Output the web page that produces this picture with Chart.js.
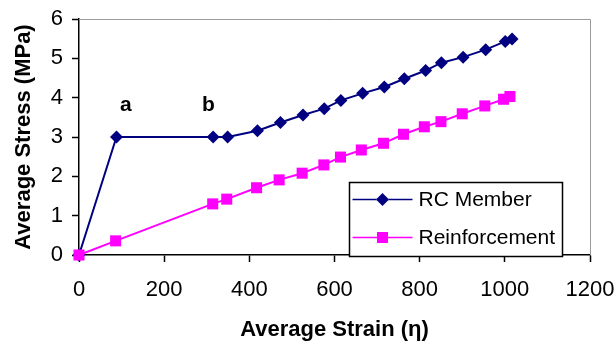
<!DOCTYPE html>
<html>
<head>
<meta charset="utf-8">
<script src="https://cdn.jsdelivr.net/npm/chart.js@4/dist/chart.umd.min.js"></script>
<style>
  html, body { margin: 0; padding: 0; background: #fff; }
  #wrap { width: 616px; height: 343px; }
</style>
</head>
<body>
<div id="wrap"><canvas id="chart" width="616" height="343"></canvas></div>
<script>
// Daten
const rcStrain = [0, 88, 315, 349, 419, 473, 526, 576, 615, 666, 717, 764, 814, 851, 902, 955, 1001, 1017];
const rcStress = [0, 3.0, 3.0, 3.0, 3.16, 3.37, 3.56, 3.72, 3.93, 4.11, 4.27, 4.48, 4.69, 4.89, 5.03, 5.22, 5.43, 5.49];
const reStrain = [0, 86, 314, 347, 417, 470, 524, 575, 614, 663, 715, 762, 811, 850, 900, 953, 997, 1012];
const reStress = [0, 0.36, 1.30, 1.42, 1.71, 1.91, 2.08, 2.29, 2.49, 2.67, 2.84, 3.07, 3.26, 3.39, 3.59, 3.79, 3.96, 4.03];
const seriesNames = ['RC Member', 'Reinforcement'];
const xTicks = [0, 200, 400, 600, 800, 1000, 1200];
const yTicks = [0, 1, 2, 3, 4, 5, 6];
const marks = [{ text: 'a', x: 110, y: 3.82 }, { text: 'b', x: 304, y: 3.82 }];

const FONT = "'Liberation Sans', Arial, sans-serif";
const NAVY = '#000080';
const PINK = '#FF00FF';

function toPoints(xs, ys) {
  return xs.map((x, i) => ({ x: x, y: ys[i] }));
}

// Rahmen oben/rechts, Beschriftung a/b, Legende
const extras = {
  id: 'extras',
  beforeDatasetsDraw(chart) {
    const ctx = chart.ctx;
    const a = chart.chartArea;
    ctx.save();
    ctx.strokeStyle = '#9a9a9a';
    ctx.lineWidth = 1;
    ctx.beginPath();
    ctx.moveTo(a.left, a.top + 0.5);
    ctx.lineTo(a.right + 0.5, a.top + 0.5);
    ctx.lineTo(a.right + 0.5, a.bottom);
    ctx.stroke();
    ctx.restore();
  },
  afterDatasetsDraw(chart) {
    const ctx = chart.ctx;
    const xs = chart.scales.x, ys = chart.scales.y;
    ctx.save();
    ctx.fillStyle = '#000';
    ctx.font = 'bold 21px ' + FONT;
    ctx.textAlign = 'center';
    ctx.textBaseline = 'middle';
    marks.forEach(m => ctx.fillText(m.text, xs.getPixelForValue(m.x), ys.getPixelForValue(m.y)));

    // Legende
    const bx = 349.5, by = 182.5, bw = 213, bh = 74;
    ctx.fillStyle = '#fff';
    ctx.fillRect(bx, by, bw, bh);
    ctx.strokeStyle = '#000';
    ctx.lineWidth = 1.5;
    ctx.strokeRect(bx, by, bw, bh);
    const rows = [by + 17, by + 55];
    chart.data.datasets.forEach((ds, i) => {
      const yy = rows[i];
      ctx.strokeStyle = ds.borderColor;
      ctx.lineWidth = 1.5;
      ctx.beginPath();
      ctx.moveTo(bx + 3, yy);
      ctx.lineTo(bx + 63, yy);
      ctx.stroke();
      Chart.helpers.drawPoint(ctx, {
        pointStyle: ds.pointStyle, radius: ds.pointRadius, borderWidth: 0, rotation: 0
      }, bx + 33, yy);
      ctx.fillStyle = ds.backgroundColor;
      ctx.fill();
      ctx.fillStyle = '#000';
      ctx.font = '21px ' + FONT;
      ctx.textAlign = 'left';
      ctx.fillText(ds.label, bx + 69, yy + 1);
    });
    ctx.restore();
  }
};

new Chart(document.getElementById('chart').getContext('2d'), {
  type: 'scatter',
  data: {
    datasets: [
      {
        label: seriesNames[0], data: toPoints(rcStrain, rcStress), showLine: true, order: 1, clip: false,
        borderColor: NAVY, backgroundColor: NAVY, borderWidth: 2,
        pointStyle: 'rectRot', pointRadius: 6.5, pointBorderWidth: 0, pointHoverRadius: 6.5
      },
      {
        label: seriesNames[1], data: toPoints(reStrain, reStress), showLine: true, order: 0, clip: false,
        borderColor: PINK, backgroundColor: PINK, borderWidth: 2,
        pointStyle: 'rect', pointRadius: 7.8, pointBorderWidth: 0, pointHoverRadius: 7.8
      }
    ]
  },
  options: {
    responsive: false,
    animation: false,
    events: [],
    layout: { padding: { top: 19, right: 26, left: 0, bottom: 0 } },
    plugins: { legend: { display: false }, tooltip: { enabled: false } },
    scales: {
      x: {
        type: 'linear', min: 0, max: 1200,
        afterBuildTicks: s => { s.ticks = xTicks.map(v => ({ value: v })); },
        afterFit: s => { s.height = 88; s.paddingRight = 0; s.paddingLeft = 0; },
        grid: { drawOnChartArea: false, drawTicks: true, tickLength: 7, color: '#000', tickWidth: 1.5 },
        border: { color: '#000', width: 1.5 },
        ticks: { color: '#000', font: { family: FONT, size: 22 }, padding: 15, maxRotation: 0,
                 callback: v => String(v) },
        title: { display: true, text: 'Average Strain (η)', color: '#000',
                 font: { family: FONT, size: 22, weight: 'bold' }, padding: { top: 1, bottom: 0 } }
      },
      y: {
        type: 'linear', min: 0, max: 6,
        afterBuildTicks: s => { s.ticks = yTicks.map(v => ({ value: v })); },
        afterFit: s => { s.width = 79; s.paddingTop = 0; s.paddingBottom = 0; },
        grid: { drawOnChartArea: false, drawTicks: true, tickLength: 7, color: '#000', tickWidth: 1.5 },
        border: { color: '#000', width: 1.5 },
        ticks: { color: '#000', font: { family: FONT, size: 22 }, padding: 9, callback: v => String(v) },
        title: { display: true, text: 'Average Stress (MPa)', color: '#000',
                 font: { family: FONT, size: 22, weight: 'bold' }, padding: { top: 11, bottom: 0 } }
      }
    }
  },
  plugins: [extras]
});
</script>
</body>
</html>
